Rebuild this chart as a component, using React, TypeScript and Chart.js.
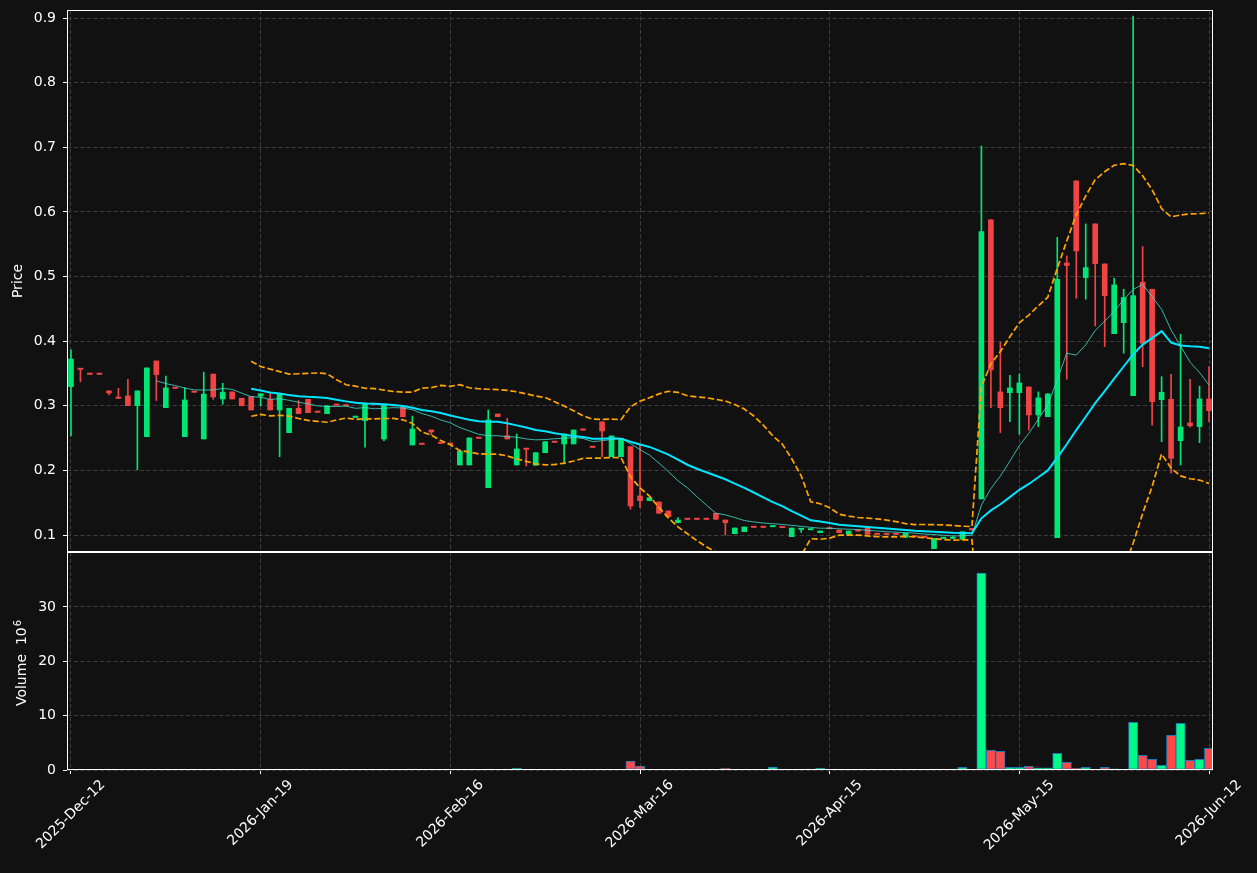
import React, { useEffect, useRef } from 'react';
import { Chart, registerables } from 'chart.js';

Chart.register(...registerables);

const tickLabels = ['2025-Dec-12', '2026-Jan-19', '2026-Feb-16', '2026-Mar-16', '2026-Apr-15', '2026-May-15', '2026-Jun-12'];
const tickIndex = [0, 20, 40, 60, 80, 100, 120];
const priceTicks = [0.1, 0.2, 0.3, 0.4, 0.5, 0.6, 0.7, 0.8, 0.9];
const volumeTicks = [0, 10, 20, 30];

const opens = [
  0.3296, 0.3568, 0.3490, 0.3490, 0.3230, 0.3118, 0.3152, 0.3002, 0.2522, 0.3693,
  0.2970, 0.3272, 0.2522, 0.3212, 0.2486, 0.3490, 0.3105, 0.3214, 0.3116, 0.3140,
  0.3150, 0.3100, 0.2935, 0.2584, 0.2961, 0.3100, 0.2902, 0.2878, 0.3012, 0.3002,
  0.2820, 0.2770, 0.3022, 0.2486, 0.3002, 0.2977, 0.2393, 0.2406, 0.2625, 0.2421,
  0.2407, 0.2084, 0.2084, 0.2499, 0.1732, 0.2873, 0.2537, 0.2084, 0.2330, 0.2079,
  0.2274, 0.2437, 0.2409, 0.2409, 0.2627, 0.2359, 0.2750, 0.2212, 0.2212, 0.2367,
  0.1604, 0.1531, 0.1511, 0.1372, 0.1190, 0.1245, 0.1245, 0.1245, 0.1336, 0.1232,
  0.1020, 0.1051, 0.1121, 0.1121, 0.1127, 0.1117, 0.0974, 0.1086, 0.1080, 0.1036,
  0.1100, 0.1077, 0.1011, 0.1064, 0.1113, 0.1012, 0.1012, 0.1012, 0.0964, 0.0976,
  0.0966, 0.0788, 0.0947, 0.0947, 0.0933, 0.1103, 0.1557, 0.5876, 0.3214, 0.3203,
  0.3203, 0.3291, 0.2858, 0.2831, 0.0958, 0.5210, 0.6480, 0.4983, 0.5814, 0.5195,
  0.4116, 0.4286, 0.3156, 0.4912, 0.4803, 0.3095, 0.3100, 0.2460, 0.2734, 0.2677,
  0.3105,
];

const highs = [
  0.3864, 0.3570, 0.3490, 0.3490, 0.3230, 0.3270, 0.3410, 0.3230, 0.3585, 0.3693,
  0.3460, 0.3272, 0.3280, 0.3212, 0.3520, 0.3490, 0.3348, 0.3214, 0.3116, 0.3140,
  0.3185, 0.3203, 0.3193, 0.2961, 0.3080, 0.3100, 0.2902, 0.3000, 0.3012, 0.3002,
  0.2840, 0.3040, 0.3022, 0.3020, 0.3002, 0.2977, 0.2840, 0.2406, 0.2625, 0.2421,
  0.2407, 0.2300, 0.2502, 0.2499, 0.2935, 0.2873, 0.2806, 0.2563, 0.2330, 0.2274,
  0.2444, 0.2437, 0.2563, 0.2625, 0.2627, 0.2359, 0.2750, 0.2533, 0.2497, 0.2367,
  0.2393, 0.1577, 0.1511, 0.1372, 0.1268, 0.1245, 0.1245, 0.1245, 0.1336, 0.1232,
  0.1108, 0.1124, 0.1121, 0.1121, 0.1131, 0.1117, 0.1108, 0.1090, 0.1084, 0.1062,
  0.1100, 0.1077, 0.1062, 0.1064, 0.1113, 0.1012, 0.1012, 0.1012, 0.1026, 0.0976,
  0.0966, 0.0949, 0.0951, 0.0974, 0.1051, 0.1103, 0.7020, 0.5876, 0.3983, 0.3470,
  0.3492, 0.3291, 0.3214, 0.3190, 0.5608, 0.5319, 0.6480, 0.5814, 0.5814, 0.5195,
  0.4974, 0.4803, 0.9030, 0.5463, 0.4803, 0.3450, 0.3488, 0.4107, 0.3410, 0.3303,
  0.3605,
];

const lows = [
  0.2533, 0.3370, 0.3484, 0.3484, 0.3167, 0.3112, 0.3002, 0.2010, 0.2522, 0.3080,
  0.2970, 0.3268, 0.2522, 0.3208, 0.2486, 0.3100, 0.3023, 0.3105, 0.3000, 0.2935,
  0.3000, 0.2935, 0.2212, 0.2584, 0.2878, 0.2893, 0.2898, 0.2878, 0.3008, 0.2998,
  0.2820, 0.2360, 0.3018, 0.2460, 0.2998, 0.2830, 0.2393, 0.2402, 0.2548, 0.2417,
  0.2403, 0.2084, 0.2084, 0.2495, 0.1732, 0.2831, 0.2486, 0.2084, 0.2068, 0.2079,
  0.2274, 0.2433, 0.2099, 0.2409, 0.2623, 0.2355, 0.2212, 0.2212, 0.2212, 0.1398,
  0.1422, 0.1531, 0.1336, 0.1284, 0.1190, 0.1241, 0.1241, 0.1241, 0.1243, 0.1000,
  0.1020, 0.1051, 0.1117, 0.1117, 0.1127, 0.1113, 0.0974, 0.1040, 0.1080, 0.1036,
  0.1096, 0.1036, 0.1011, 0.1060, 0.1011, 0.1008, 0.1008, 0.1008, 0.0964, 0.0972,
  0.0962, 0.0788, 0.0947, 0.0947, 0.0933, 0.1077, 0.1557, 0.2970, 0.2584, 0.2754,
  0.2559, 0.2625, 0.2677, 0.2831, 0.0958, 0.3410, 0.4664, 0.4648, 0.4235, 0.3915,
  0.4116, 0.3813, 0.3156, 0.3605, 0.2698, 0.2444, 0.1955, 0.2084, 0.2667, 0.2429,
  0.2754,
];

const closes = [
  0.3724, 0.3562, 0.3486, 0.3486, 0.3198, 0.3114, 0.3002, 0.3230, 0.3585, 0.3482,
  0.3276, 0.3268, 0.3090, 0.3208, 0.3180, 0.3136, 0.3210, 0.3105, 0.3000, 0.2935,
  0.3185, 0.2935, 0.3193, 0.2961, 0.2878, 0.2893, 0.2898, 0.3000, 0.3008, 0.2998,
  0.2840, 0.3040, 0.3018, 0.3020, 0.2998, 0.2830, 0.2640, 0.2402, 0.2594, 0.2417,
  0.2403, 0.2300, 0.2502, 0.2495, 0.2780, 0.2831, 0.2486, 0.2331, 0.2325, 0.2274,
  0.2444, 0.2433, 0.2563, 0.2625, 0.2623, 0.2355, 0.2610, 0.2533, 0.2497, 0.1449,
  0.1532, 0.1577, 0.1336, 0.1284, 0.1232, 0.1241, 0.1241, 0.1241, 0.1243, 0.1190,
  0.1108, 0.1124, 0.1117, 0.1117, 0.1131, 0.1113, 0.1108, 0.1090, 0.1084, 0.1062,
  0.1096, 0.1036, 0.1062, 0.1060, 0.1011, 0.1008, 0.1008, 0.1008, 0.1026, 0.0972,
  0.0962, 0.0949, 0.0951, 0.0951, 0.1051, 0.1077, 0.5695, 0.3554, 0.2970, 0.3276,
  0.3353, 0.2858, 0.3121, 0.3183, 0.4958, 0.5170, 0.5396, 0.5138, 0.5200, 0.4704,
  0.4870, 0.4674, 0.4704, 0.3967, 0.3064, 0.3209, 0.2187, 0.2672, 0.2692, 0.3105,
  0.2924,
];

// volume in millions
const volumes = [
  0, 0, 0, 0, 0.15, 0, 0, 0, 0, 0,
  0, 0, 0, 0, 0, 0, 0, 0, 0, 0,
  0, 0, 0.15, 0, 0.15, 0, 0, 0, 0, 0,
  0, 0, 0, 0, 0, 0, 0.15, 0, 0.15, 0,
  0, 0, 0, 0, 0.15, 0, 0.15, 0.37, 0, 0,
  0, 0, 0, 0, 0, 0, 0, 0, 0, 1.66,
  0.74, 0, 0, 0, 0, 0, 0, 0, 0, 0.37,
  0, 0, 0, 0, 0.55, 0.15, 0, 0.15, 0.15, 0.37,
  0.15, 0.15, 0, 0, 0, 0, 0, 0, 0, 0,
  0, 0.15, 0.15, 0.15, 0.5, 0.05, 36.2, 3.62, 3.44, 0.5,
  0.5, 0.68, 0.4, 0.4, 3.07, 1.41, 0.35, 0.5, 0.1, 0.5,
  0.2, 0.08, 8.78, 2.7, 1.97, 0.86, 6.39, 8.6, 1.78, 1.97,
  4.0,
];

const UP = '#00e676';
const DOWN = '#f04444';
const VOL_UP = '#00fa8a';
const VOL_DOWN = '#ff4848';
const GRID = '#3c3c3c';
const BG = '#111111';
const FONT = '"DejaVu Sans", sans-serif';

function sma(src: number[], n: number): (number | null)[] {
  return src.map((_, i) => {
    if (i < n - 1) return null;
    let s = 0;
    for (let k = i - n + 1; k <= i; k++) s += src[k];
    return s / n;
  });
}

function band(src: number[], n: number, mult: number): (number | null)[] {
  const mid = sma(src, n);
  return src.map((_, i) => {
    const m = mid[i];
    if (m === null) return null;
    let v = 0;
    for (let k = i - n + 1; k <= i; k++) v += (src[k] - m) * (src[k] - m);
    return m + mult * Math.sqrt(v / n);
  });
}

const idx = closes.map((_, i) => i);
const isUp = idx.map((i) => closes[i] >= opens[i]);
const candleColors = isUp.map((u) => (u ? UP : DOWN));
const volColors = isUp.map((u) => (u ? VOL_UP : VOL_DOWN));
const ma10 = sma(closes, 10);
const ma20 = sma(closes, 20);
const bbUp = band(closes, 20, 2);
const bbLow = band(closes, 20, -2);

const framePlugin = {
  id: 'frame',
  afterDraw(c: any) {
    const { ctx, chartArea } = c;
    const { left, top, right, bottom } = chartArea;
    ctx.save();
    ctx.strokeStyle = '#ffffff';
    ctx.lineWidth = 1;
    ctx.strokeRect(left + 0.5, top + 0.5, right - left - 1, bottom - top - 1);
    ctx.restore();
  },
};

const xLabelPlugin = {
  id: 'xlabels',
  afterDraw(c: any) {
    const { ctx, chartArea } = c;
    const xs = c.scales.x;
    ctx.save();
    ctx.font = `14px ${FONT}`;
    ctx.fillStyle = '#ffffff';
    tickIndex.forEach((v, k) => {
      const px = xs.getPixelForValue(v);
      const w = ctx.measureText(tickLabels[k]).width;
      const h = 16;
      const bh = (w + h) * Math.SQRT1_2;
      ctx.save();
      ctx.translate(px, chartArea.bottom + 7 + bh / 2);
      ctx.rotate(-Math.PI / 4);
      ctx.textAlign = 'center';
      ctx.textBaseline = 'middle';
      ctx.fillText(tickLabels[k], 0, 0);
      ctx.restore();
    });
    ctx.restore();
  },
};

// volume axis title with a real superscript exponent
const volTitlePlugin = {
  id: 'voltitle',
  afterDraw(c: any) {
    const { ctx, chartArea } = c;
    const main = 'Volume  10';
    const sup = '6';
    ctx.save();
    ctx.fillStyle = '#ffffff';
    ctx.font = `14px ${FONT}`;
    const w1 = ctx.measureText(main).width;
    ctx.font = `10px ${FONT}`;
    const w2 = ctx.measureText(sup).width;
    const total = w1 + 1 + w2;
    const cy = (chartArea.top + chartArea.bottom) / 2 + 2;
    ctx.translate(26, cy + total / 2);
    ctx.rotate(-Math.PI / 2);
    ctx.textAlign = 'left';
    ctx.textBaseline = 'alphabetic';
    ctx.font = `14px ${FONT}`;
    ctx.fillText(main, 0, 0);
    ctx.font = `10px ${FONT}`;
    ctx.fillText(sup, w1 + 1, -5.5);
    ctx.restore();
  },
};

const zeroPad = (s: any) => {
  s.paddingTop = 0;
  s.paddingBottom = 0;
  s.paddingLeft = 0;
  s.paddingRight = 0;
};

function xScale(height: number) {
  return {
    type: 'linear',
    offset: false,
    min: -0.42,
    max: 120.42,
    afterBuildTicks: (s: any) => {
      s.ticks = tickIndex.map((v) => ({ value: v }));
    },
    afterFit: (s: any) => {
      s.height = height;
      zeroPad(s);
    },
    ticks: { display: false },
    grid: { offset: false, color: GRID, lineWidth: 1, drawTicks: true, tickLength: 4, tickColor: '#ffffff', tickWidth: 1, tickBorderDash: [] },
    border: { display: false, dash: [4.4, 2.2] },
  };
}

function yScale(min: number, max: number, ticks: number[], fmt: (v: number) => string, title: string | null) {
  return {
    type: 'linear',
    min,
    max,
    afterBuildTicks: (s: any) => {
      s.ticks = ticks.map((v) => ({ value: v }));
    },
    afterFit: (s: any) => {
      s.width = 67;
      zeroPad(s);
    },
    ticks: { color: '#ffffff', padding: 7, callback: (v: any) => fmt(Number(v)) },
    grid: { color: GRID, lineWidth: 1, drawTicks: true, tickLength: 4, tickColor: '#ffffff', tickWidth: 1, tickBorderDash: [] },
    border: { display: false, dash: [4.4, 2.2] },
    title: { display: title !== null, text: title || '', color: '#ffffff', padding: { top: 10, bottom: 0 } },
  };
}

export default function App() {
  const priceRef = useRef<HTMLCanvasElement>(null);
  const volRef = useRef<HTMLCanvasElement>(null);

  useEffect(() => {
    Chart.defaults.font.family = FONT;
    Chart.defaults.font.size = 14;
    Chart.defaults.color = '#ffffff';

    const line = (data: (number | null)[], color: string, width: number, dash: number[] = []) => ({
      type: 'line',
      data: data.map((y, i) => ({ x: i, y })),
      borderColor: color,
      borderWidth: width,
      borderDash: dash,
      pointRadius: 0,
      tension: 0,
      fill: false,
    });

    const priceChart = new Chart(priceRef.current as HTMLCanvasElement, {
      type: 'bar',
      data: {
        datasets: [
          line(ma10, 'rgba(64,224,208,0.8)', 1),
          line(ma20, '#00e5ff', 2),
          line(bbUp, '#ffa500', 1.7, [6.2, 2.7]),
          line(bbLow, '#ffa500', 1.7, [6.2, 2.7]),
          {
            type: 'bar',
            data: idx.map((i) => ({ x: i, y: [lows[i], highs[i]] })),
            backgroundColor: candleColors,
            borderWidth: 0,
            barThickness: 1,
            grouped: false,
          },
          {
            type: 'bar',
            data: idx.map((i) => ({ x: i, y: [opens[i], closes[i]] })),
            backgroundColor: candleColors,
            borderWidth: 0,
            barThickness: 5,
            minBarLength: 1.3,
            grouped: false,
          },
        ] as any,
      },
      options: {
        animation: false,
        responsive: false,
        maintainAspectRatio: false,
        layout: { padding: { top: 10, right: 44, left: 0, bottom: 0 } },
        plugins: { legend: { display: false }, tooltip: { enabled: false } },
        scales: {
          x: xScale(8) as any,
          y: yScale(0.0737, 0.9124, priceTicks, (v) => v.toFixed(1), 'Price') as any,
        },
      } as any,
      plugins: [framePlugin],
    } as any);

    const volChart = new Chart(volRef.current as HTMLCanvasElement, {
      type: 'bar',
      data: {
        datasets: [
          {
            data: idx.map((i) => ({ x: i, y: volumes[i] })),
            backgroundColor: volColors,
            borderColor: '#1f77b4',
            borderWidth: 1,
            borderSkipped: false,
            barThickness: 9.3,
          },
        ] as any,
      },
      options: {
        animation: false,
        responsive: false,
        maintainAspectRatio: false,
        layout: { padding: { top: 0, right: 44, left: 0, bottom: 0 } },
        plugins: { legend: { display: false }, tooltip: { enabled: false } },
        scales: {
          x: xScale(103) as any,
          y: yScale(0, 40.1, volumeTicks, (v) => String(v), null) as any,
        },
      } as any,
      plugins: [framePlugin, xLabelPlugin, volTitlePlugin],
    } as any);

    return () => {
      priceChart.destroy();
      volChart.destroy();
    };
  }, []);

  return (
    <div style={{ position: 'fixed', left: 0, top: 0, width: 1257, height: 873, background: BG, overflow: 'hidden' }}>
      <canvas ref={priceRef} width={1257} height={560} style={{ position: 'absolute', left: 0, top: 0, width: 1257, height: 560 }} />
      <canvas ref={volRef} width={1257} height={321} style={{ position: 'absolute', left: 0, top: 552, width: 1257, height: 321 }} />
    </div>
  );
}
